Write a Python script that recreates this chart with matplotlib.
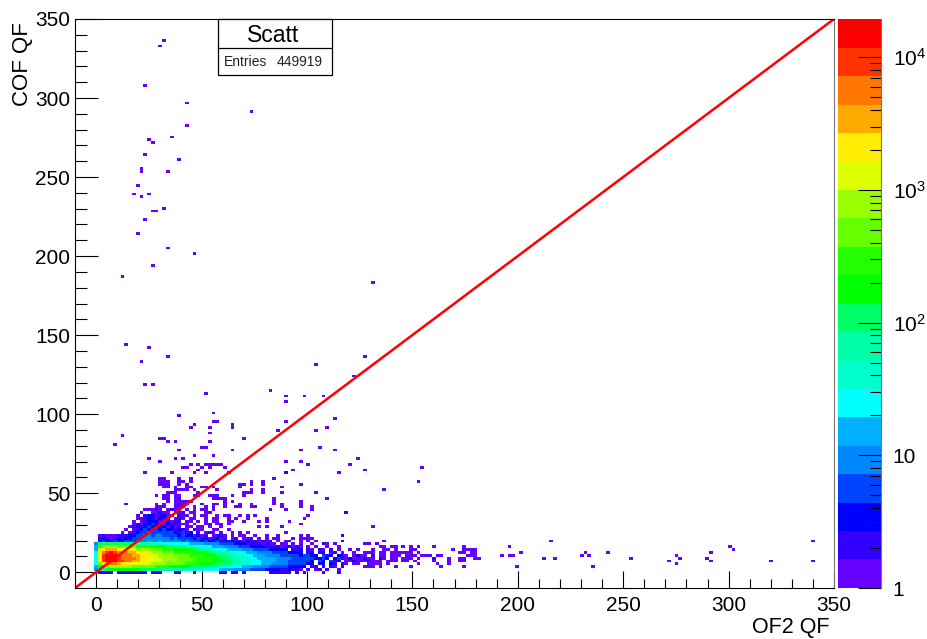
import numpy as np
import matplotlib
matplotlib.use("Agg")
import matplotlib.pyplot as plt
from matplotlib.colors import ListedColormap, BoundaryNorm
from matplotlib.patches import Rectangle
from matplotlib.ticker import FixedLocator, NullFormatter

plt.rcParams['font.family'] = ['Liberation Sans', 'DejaVu Sans']
plt.rcParams['mathtext.default'] = 'regular'

# -----data-----
entries = 449919
palette = ['#6600ff', '#3300ff', '#0000ff', '#0044ff', '#0088ff', '#00b0ff', '#00ffff',
           '#00ffcc', '#00ffaa', '#00ff66', '#00ff00', '#22ff00', '#66ff00', '#99ff00',
           '#ddff00', '#ffee00', '#ffaa00', '#ff7700', '#ff3300', '#ff0000']
z_levels = [1, 1.64, 2.68, 4.4, 7.2, 11.8, 19.3, 31.6, 51.8, 85, 139, 228, 373, 611, 1000,
            1640, 2680, 4400, 7200, 11800, 19400]
line_x = [-10, 350]
line_y = [-10, 350]

# counts per cell of the dense part, one list per row, columns start at OF2 QF = 0
core_y = [1.7, 3.5, 5.3, 7.1, 8.9, 10.7, 12.5, 14.3, 16.1, 17.9, 19.7, 21.5, 23.3, 25.1, 26.9,
          28.7, 30.5, 32.3, 34.1, 35.9, 37.7, 39.5]
core_rows = [
    [9, 40, 65, 110, 180, 180, 180, 180, 180, 180, 180, 180, 110, 110, 110, 110, 110, 110, 65, 65, 65, 65, 65, 65, 40, 40, 40, 40, 40, 25, 25, 25, 25, 15, 15, 15, 15, 9, 9, 9, 9, 5, 5, 5, 5, 3, 3, 3, 3, 2, 2, 3, 2, 2, 1, 0, 2, 0, 1, 2, 0, 2, 0, 0, 1, 0],
    [15, 180, 300, 480, 800, 800, 800, 800, 800, 800, 480, 480, 480, 480, 480, 480, 300, 300, 300, 300, 180, 180, 180, 180, 180, 110, 110, 110, 110, 110, 65, 65, 40, 40, 40, 25, 25, 25, 25, 15, 15, 15, 9, 9, 9, 9, 5, 5, 5, 5, 5, 3, 3, 3, 3, 3, 0, 2, 2, 0, 2, 0, 2, 1, 0, 2],
    [25, 480, 2100, 3500, 5500, 5500, 3500, 2100, 2100, 2100, 2100, 1300, 1300, 1300, 1300, 800, 800, 800, 800, 480, 480, 480, 480, 480, 300, 300, 300, 300, 180, 180, 180, 180, 110, 110, 110, 110, 65, 65, 40, 40, 40, 25, 25, 25, 15, 15, 15, 9, 9, 9, 9, 5, 5, 5, 5, 5, 3, 3, 0, 3, 3, 0, 3, 2, 0, 2],
    [25, 1300, 9000, 15000, 15000, 15000, 9000, 9000, 5500, 5500, 3500, 3500, 2100, 2100, 2100, 1300, 1300, 1300, 800, 800, 800, 800, 480, 480, 480, 480, 300, 300, 300, 300, 300, 180, 180, 180, 110, 110, 65, 65, 65, 40, 40, 25, 25, 25, 15, 15, 15, 15, 9, 9, 9, 5, 5, 5, 5, 5, 5, 3, 0, 5, 3, 0, 3, 2, 3, 0],
    [25, 2100, 9000, 15000, 15000, 15000, 9000, 5500, 5500, 5500, 5500, 3500, 2100, 2100, 2100, 1300, 1300, 1300, 800, 800, 800, 800, 480, 480, 480, 480, 480, 300, 300, 300, 300, 180, 180, 110, 110, 110, 65, 65, 40, 40, 40, 25, 25, 15, 15, 15, 15, 15, 9, 9, 9, 9, 5, 5, 5, 5, 5, 5, 0, 3, 5, 3, 0, 3, 3, 2],
    [25, 2100, 9000, 15000, 15000, 15000, 9000, 5500, 5500, 5500, 3500, 3500, 2100, 2100, 2100, 1300, 1300, 800, 800, 800, 800, 480, 480, 480, 480, 300, 300, 300, 300, 180, 180, 180, 110, 110, 110, 65, 65, 40, 40, 40, 25, 25, 15, 15, 15, 9, 9, 9, 9, 5, 5, 5, 5, 5, 3, 5, 5, 3, 3, 0, 3, 2, 3, 0, 3, 2],
    [25, 2100, 5500, 9000, 15000, 9000, 5500, 5500, 5500, 3500, 3500, 2100, 2100, 1300, 1300, 800, 800, 800, 480, 480, 480, 300, 300, 300, 300, 300, 180, 180, 180, 180, 110, 110, 65, 65, 65, 40, 40, 25, 25, 25, 15, 15, 15, 9, 9, 9, 9, 5, 5, 5, 5, 3, 3, 3, 3, 0, 2, 3, 0, 2, 3, 0, 1, 2, 0, 1],
    [15, 1300, 2100, 3500, 3500, 3500, 2100, 2100, 1300, 1300, 1300, 800, 800, 800, 800, 480, 480, 480, 300, 300, 300, 180, 180, 180, 180, 180, 110, 110, 65, 65, 65, 40, 25, 25, 25, 15, 15, 15, 15, 9, 9, 9, 5, 5, 5, 5, 3, 3, 3, 3, 3, 0, 2, 2, 3, 0, 2, 1, 0, 2, 1, 0, 2, 0, 1, 0],
    [15, 300, 480, 800, 800, 800, 480, 480, 480, 480, 480, 300, 300, 300, 300, 300, 180, 180, 180, 110, 110, 110, 110, 65, 65, 65, 40, 40, 25, 25, 25, 15, 15, 15, 9, 9, 9, 9, 5, 5, 5, 3, 3, 3, 3, 2, 2, 2, 2, 1, 2, 2, 1, 2, 1, 0, 1, 0, 1, 0, 0, 1, 0, 0, 1, 0],
    [9, 110, 110, 110, 110, 110, 110, 110, 110, 110, 65, 65, 65, 65, 65, 65, 40, 40, 40, 40, 25, 25, 25, 25, 25, 15, 15, 15, 15, 9, 9, 9, 9, 5, 5, 5, 5, 3, 3, 3, 2, 2, 2, 2, 1, 2, 1, 1, 0, 1, 1, 0, 1, 0, 1, 0, 0, 1, 0, 0, 1, 0, 0, 1],
    [0, 2, 5, 3, 2, 5, 3, 3, 5, 5, 5, 9, 9, 9, 15, 9, 9, 15, 9, 9, 9, 9, 9, 5, 9, 5, 5, 5, 3, 5, 3, 3, 5, 2, 3, 2, 3, 2, 2, 1, 3, 2, 2, 1, 2, 1, 3, 0, 1, 0, 1, 2, 0, 0, 1, 0, 1, 0, 1],
    [0, 2, 3, 2, 1, 2, 3, 2, 3, 3, 5, 5, 9, 9, 9, 9, 9, 9, 9, 9, 5, 9, 5, 5, 5, 5, 3, 5, 2, 3, 1, 2, 3, 1, 2, 0, 1, 2, 0, 1, 1, 2, 0, 1, 0, 1, 0, 1, 1, 0, 0, 0, 1, 0, 0, 1, 0, 1],
    [0, 1, 2, 1, 1, 1, 2, 2, 2, 3, 3, 5, 5, 9, 9, 5, 9, 9, 5, 5, 5, 5, 3, 5, 3, 3, 1, 3, 1, 2, 0, 1, 2, 2, 1, 0, 1, 0, 1, 1, 0, 0, 1, 0, 0, 1, 0, 0, 1],
    [0, 0, 0, 0, 0, 0, 0, 1, 0, 1, 2, 3, 5, 5, 9, 5, 5, 5, 5, 5, 5, 3, 2, 5, 2, 3, 0, 2, 0, 1, 2, 1, 0, 1, 0, 0, 1, 0, 1, 0, 1],
    [0, 0, 0, 0, 0, 0, 0, 0, 1, 0, 1, 2, 3, 5, 3, 5, 5, 3, 5, 3, 3, 2, 3, 2, 1, 0, 2, 1, 1, 0, 0, 1, 1, 0, 0, 1],
    [0, 0, 0, 0, 0, 0, 0, 0, 0, 1, 2, 3, 2, 3, 5, 3, 3, 2, 3, 1, 3, 1, 2, 0, 1, 1, 0, 1, 1, 0, 1, 0, 0, 1],
    [0, 0, 0, 0, 0, 0, 0, 0, 0, 0, 1, 2, 1, 3, 3, 5, 3, 3, 1, 3, 2, 2, 1, 1, 1, 0, 1, 0, 0, 1, 1, 0, 1, 1, 0, 1],
    [0, 0, 0, 0, 0, 0, 0, 0, 0, 0, 1, 0, 1, 2, 3, 3, 3, 1, 2, 3, 1, 2, 2, 0, 1, 1, 0, 1, 0, 1, 0, 1, 1, 0, 0, 1, 1, 0, 0, 1],
    [0, 0, 0, 0, 0, 0, 0, 0, 0, 0, 0, 1, 1, 2, 3, 2, 1, 3, 2, 3, 0, 1, 2, 1, 0, 1, 1, 0, 0, 1, 0, 1, 1, 0, 0, 1, 0, 1, 0, 0, 1],
    [0, 0, 0, 0, 0, 0, 0, 0, 0, 0, 0, 1, 0, 2, 3, 3, 1, 2, 3, 1, 1, 0, 2, 1, 1, 0, 1, 0, 1, 1, 0, 0, 1, 0, 1, 1, 0, 0, 1, 0, 1],
    [0, 0, 0, 0, 0, 0, 0, 0, 0, 0, 0, 0, 1, 0, 0, 1, 1, 2, 1, 1, 0, 3, 1, 2, 0, 1, 1, 0, 0, 1, 1],
    [0, 0, 0, 0, 0, 0, 0, 0, 0, 0, 0, 0, 0, 1, 1, 1, 2, 1, 0, 1, 2, 1, 1, 0, 1, 0, 1, 0, 1, 1, 0, 1],
]

# rows of single hits, bottom row and long tail to the right
row_y = [0, 3.5, 5.3, 7.1, 8.9, 10.7, 12.5, 14.3, 16.1, 17.9, 19.7]
row_x = [
    [2, 4, 6, 8, 10, 12, 14, 16, 18, 20, 22, 24, 27, 29, 31, 37, 39, 46, 60, 62, 64, 67, 71, 82, 84, 86, 88, 90, 92, 95, 99, 108, 115],
    [128, 130, 132, 135, 142, 149, 163, 174, 199, 236],
    [118.5, 122, 124, 129, 131, 133, 135, 138, 153, 162, 167, 275],
    [118.5, 120, 122, 124, 126, 128, 131, 133, 135, 138, 140, 142, 146, 148, 152, 161, 167, 172, 175, 271, 291, 320, 340],
    [118.5, 120, 122, 124, 126, 128, 130, 132, 135, 137, 140, 142, 146, 148, 150, 153, 160, 161, 168, 172, 175, 180, 182, 212, 217, 253, 277, 289],
    [118.5, 122, 124, 126, 128, 135, 137, 140, 142, 144, 147, 149, 152, 154, 156, 158, 162, 164, 176, 178, 180, 192, 196, 198, 230, 234, 275],
    [123, 128, 130, 132, 135, 137, 140, 142, 144, 146, 148, 150, 153, 172, 175, 178, 180, 201, 232, 243, 291],
    [120, 124, 131, 137, 139, 142, 150, 152, 169, 174, 176, 179, 180, 302],
    [135, 136, 140, 142, 145, 150, 153, 161, 174, 196, 300],
    [127, 129, 134, 108, 110],
    [117, 136, 216, 340],
]
strong_x = [104, 108, 112, 116, 120, 122, 124, 128, 130, 132, 135]
strong_y = [8.9, 10.7, 7.1, 8.9, 8.9, 7.1, 10.7, 8.9, 7.1, 10.7, 8.9]
strong_n = [4, 3, 3, 3, 2, 3, 2, 3, 2, 2, 3]

# rows with a scatter of hits above the dense part
mid_y = [41.3, 43.1, 44.9, 46.7, 48.5, 50.3, 52.1, 53.9, 55.7, 57.5, 59.3]
mid_x = [
    [29, 31, 33, 38, 40, 41, 47, 52, 55, 62, 66, 69, 74, 76, 88, 98, 102],
    [14, 28, 33, 37, 39, 41, 43, 50, 55, 58, 62, 68, 74, 84, 88, 97],
    [34, 37, 39, 41, 43, 45, 62, 65, 84, 97],
    [33, 35, 37, 39, 40, 55, 57, 59, 62, 84, 109],
    [28, 33, 35, 37, 39, 46, 49, 54, 56, 58, 64, 70],
    [34, 36, 38, 48, 70, 72, 74, 79, 88, 104],
    [37, 39, 41, 44, 46, 58, 74, 79],
    [33, 35, 37, 44, 45, 51, 53, 55, 68, 88],
    [30, 32, 35, 39, 44, 68, 70, 74, 79, 98],
    [30, 32, 34, 40, 41, 45, 74, 79],
    [30, 33, 40, 45, 84],
]

# isolated cells higher up
point_x = [32, 30.4, 23, 43, 73.6, 43, 35.7, 25, 26.7, 23, 39.2, 21.4, 21.4, 34, 19.4, 17.6, 25, 21.4, 32,
           27, 29, 23, 19.4, 34, 46.5, 26.7, 12.3, 131, 14, 25, 34, 21.4, 104, 127.3, 23, 26.7, 122, 52,
           82.4, 89.7, 98.7, 107.7, 89.7, 55.5, 39, 55, 57, 64.5, 64.5, 46.5, 44.8, 53.8, 53.8, 89.7, 113,
           109.4, 86, 104, 12.3, 8.7, 30, 32, 34, 37.5, 53.8, 69.8, 39, 51, 53, 64.5, 105.8, 97, 113, 25,
           37.5, 41, 46.5, 55.5, 30.4, 123.9, 89.7, 97, 100.4, 120, 42, 44, 48.2, 50, 52, 54, 56, 58, 60,
           53.8, 61, 48.2, 44.8, 23, 35.7, 46.5, 52, 62.4, 89.7, 114.8, 93, 127.3, 154.4, 152.6, 136.3,
           118.6, 131, 116.7, 116.7, 89.4, 102, 82.4, 90, 118.5, 98.5, 100.4, 75, 80.7, 80.7, 91.4, 97, 77,
           77, 81, 88, 90, 97, 97, 100.4, 100.4, 117]
point_y = [336.7, 333, 307.8, 297, 291.8, 282.7, 275.3, 273.6, 272, 264.6, 261, 255, 253, 253.8, 244.7, 239.4,
           239.4, 237.8, 230.4, 228.7, 228.7, 223, 214, 205.3, 201.5, 194.3, 187, 183.3, 143.9, 141.9, 136.5,
           133, 131.2, 136.5, 118.8, 118.8, 124, 113, 115.2, 111.4, 111.4, 111.4, 107.6, 100.6, 99, 95.4, 95.4,
           94.3, 92.3, 93.7, 91.6, 91, 89, 95.4, 97, 91.6, 89.9, 89.9, 86.3, 80.8, 84, 84, 82.5, 82.5, 82.5, 84,
           77, 79, 79, 77, 79, 77, 77, 72, 72, 72, 73.6, 73.6, 70, 72, 70, 70, 68, 68, 66.4, 66.4, 68, 66.4, 69,
           69, 68, 68, 68, 66.4, 66.4, 64.5, 68, 62.8, 62.8, 62.8, 62.8, 62.8, 62.8, 62.8, 64.5, 64.5, 66.4,
           57.4, 52, 37.8, 28.5, 23.2, 19.8, 63, 39.5, 39.5, 39.5, 37.8, 34, 36, 36, 35, 33.2, 32, 31, 32, 28.7,
           28.7, 28.7, 25, 24, 22.2, 24, 22.2, 23.2]
# ------------

xedges = np.arange(-10, 350.1, 1.8)
yedges = np.arange(-10, 350.1, 1.8)

hit_x, hit_y, hit_n = [], [], []
for j in range(len(core_rows)):
    for i in range(len(core_rows[j])):
        hit_x.append(i * 1.8 - 0.1)
        hit_y.append(core_y[j])
        hit_n.append(core_rows[j][i])
for j in range(len(row_y)):
    for x in row_x[j]:
        hit_x.append(x); hit_y.append(row_y[j]); hit_n.append(1 if j > 0 else 2)
for j in range(len(mid_y)):
    for x in mid_x[j]:
        hit_x.append(x); hit_y.append(mid_y[j]); hit_n.append(1)
for i in range(len(point_x)):
    hit_x.append(point_x[i]); hit_y.append(point_y[i]); hit_n.append(1)
for i in range(len(strong_x)):
    hit_x.append(strong_x[i]); hit_y.append(strong_y[i]); hit_n.append(strong_n[i])

H, _, _ = np.histogram2d(hit_x, hit_y, bins=[xedges, yedges], weights=hit_n)
H = np.ma.masked_less(H.T, 1)

W, HT = 928, 639
fig = plt.figure(figsize=(W / 100, HT / 100), dpi=100)
ax = fig.add_axes([75 / W, 1 - 588 / HT, (834 - 75) / W, (588 - 19) / HT])
cax = fig.add_axes([838 / W, 1 - 588 / HT, (881 - 838) / W, (588 - 19) / HT])

cmap = ListedColormap(palette)
norm = BoundaryNorm(z_levels, cmap.N)
ax.pcolormesh(xedges, yedges, H, cmap=cmap, norm=norm, antialiased=False, rasterized=True)
ax.plot(line_x, line_y, color='red', lw=1.8)
ax.set_xlim(-10, 350)
ax.set_ylim(-10, 350)

ax.set_xticks(np.arange(0, 351, 50))
ax.set_yticks(np.arange(0, 351, 50))
ax.set_xticks(np.arange(0, 351, 10), minor=True)
ax.set_yticks(np.arange(0, 351, 10), minor=True)
ax.tick_params(axis='x', which='major', direction='in', length=12, width=0.8, labelsize=15, pad=6)
ax.tick_params(axis='x', which='minor', direction='in', length=6.2, width=0.8)
ax.tick_params(axis='y', which='major', direction='in', length=16.5, width=0.8, labelsize=15, pad=3.5)
ax.tick_params(axis='y', which='minor', direction='in', length=8.6, width=0.8)
ax.spines['right'].set_color('#777777')

# z palette
cax.pcolormesh([0, 1], z_levels, np.array(z_levels[:-1]).reshape(-1, 1) * 1.01, cmap=cmap, norm=norm)
cax.set_yscale('log')
cax.set_ylim(1, 19400)
cax.set_xlim(0, 1)
cax.set_xticks([])
cax.yaxis.tick_right()
cax.yaxis.set_major_locator(FixedLocator([1, 10, 100, 1000, 10000]))
cax.set_yticklabels(['1', '10', '$10^{2}$', '$10^{3}$', '$10^{4}$'])
cax.yaxis.set_minor_locator(FixedLocator([m * 10 ** e for e in range(5) for m in range(2, 10) if m * 10 ** e < 19400]))
cax.yaxis.set_minor_formatter(NullFormatter())
cax.tick_params(axis='y', which='major', direction='in', length=16.5, width=0.8, labelsize=15, pad=8.5)
cax.tick_params(axis='y', which='minor', direction='in', length=8.2, width=0.8)
cax.spines['left'].set_visible(False)
cax.spines['top'].set_visible(False)
cax.spines['bottom'].set_visible(False)
cax.spines['right'].set_color('#777777')

# axis titles
fig.text(830 / W, 1 - 628 / HT, 'OF2 QF', ha='right', va='center', fontsize=15.5)
fig.text(23 / W, 1 - 22 / HT, 'COF QF', ha='center', va='top', rotation=90, fontsize=16)

# stats box
fig.add_artist(Rectangle((218.5 / W, 1 - 75 / HT), 113 / W, 56 / HT, transform=fig.transFigure,
                         facecolor='white', edgecolor='black', lw=0.9, zorder=5))
fig.add_artist(plt.Line2D([218.5 / W, 331.5 / W], [1 - 48 / HT, 1 - 48 / HT], color='black', lw=0.9, zorder=6))
fig.text(273 / W, 1 - 35 / HT, 'Scatt', ha='center', va='center', fontsize=16.5, zorder=7)
fig.text(223.5 / W, 1 - 62.5 / HT, 'Entries', ha='left', va='center', fontsize=10, color='#222222', zorder=7)
fig.text(323 / W, 1 - 62.5 / HT, str(entries), ha='right', va='center', fontsize=10, color='#222222', zorder=7)

fig.savefig('out.png', dpi=100)
